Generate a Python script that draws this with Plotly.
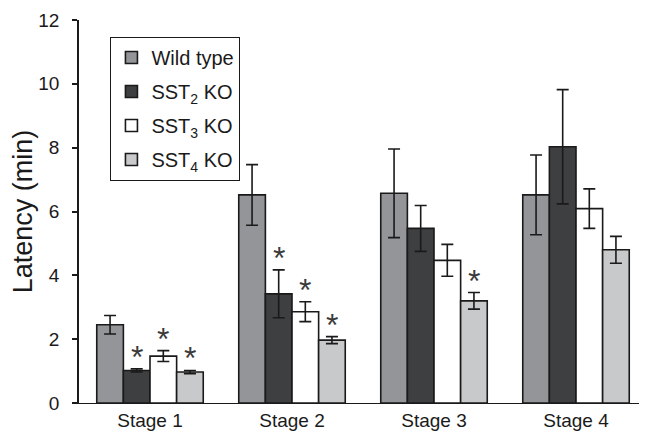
import plotly.graph_objects as go

stages = ["Stage 1", "Stage 2", "Stage 3", "Stage 4"]
series_names = ["Wild type", "SST<sub>2</sub> KO", "SST<sub>3</sub> KO", "SST<sub>4</sub> KO"]
wild_type = [2.45, 6.52, 6.57, 6.52]
wild_type_err = [0.29, 0.95, 1.39, 1.25]
sst2_ko = [1.02, 3.42, 5.47, 8.03]
sst2_ko_err = [0.05, 0.75, 0.72, 1.79]
sst3_ko = [1.47, 2.86, 4.47, 6.09]
sst3_ko_err = [0.17, 0.31, 0.50, 0.62]
sst4_ko = [0.97, 1.97, 3.20, 4.80]
sst4_ko_err = [0.05, 0.11, 0.26, 0.42]
# significance markers (series index, stage index)
significant = [(1, 0), (2, 0), (3, 0), (1, 1), (2, 1), (3, 1), (3, 2)]

values = [wild_type, sst2_ko, sst3_ko, sst4_ko]
errors = [wild_type_err, sst2_ko_err, sst3_ko_err, sst4_ko_err]
colors = ["#939598", "#3d3f41", "#ffffff", "#c8c9cb"]

x = list(range(len(stages)))
fig = go.Figure()
for j in range(4):
    fig.add_trace(go.Bar(
        x=x, y=values[j], name=series_names[j], legendgroup=str(j),
        marker=dict(color=colors[j], line=dict(color="#1a1a1a", width=1.6)),
        error_y=dict(type="data", array=errors[j], color="#1a1a1a", thickness=1.6, width=6),
    ))

bargap = 0.25
bw = (1 - bargap) / 4
offsets = [(-1.5 + j) * bw for j in range(4)]
for (j, i) in significant:
    fig.add_annotation(
        x=i + offsets[j], y=values[j][i] + errors[j][i], xref="x", yref="y",
        text="*", showarrow=False, yanchor="bottom", yshift=-8,
        font=dict(size=32, color="#3a3a3a", family="Arial, Liberation Sans"),
    )

# page body has an 8px default margin; figure is sized to fill the rest
fig.update_layout(
    width=639, height=433,
    margin=dict(l=71, r=0, t=12, b=38),
    paper_bgcolor="white", plot_bgcolor="white",
    barmode="group", bargap=bargap, bargroupgap=0,
    font=dict(family="Arial, Liberation Sans", size=20, color="#1a1a1a"),
    showlegend=True,
    legend=dict(
        x=0.055, y=0.956, xanchor="left", yanchor="top",
        bordercolor="#1a1a1a", borderwidth=1.2, bgcolor="white",
        font=dict(size=20), traceorder="grouped", tracegroupgap=5,
    ),
    xaxis=dict(
        range=[-0.5, 3.5], tickvals=x, ticktext=stages, showline=True,
        linecolor="#1a1a1a", linewidth=1.2, ticks="", showgrid=False,
        zeroline=False, tickfont=dict(size=19), automargin=False,
    ),
    yaxis=dict(
        range=[0, 12], dtick=2, showline=True, linecolor="#1a1a1a", linewidth=1.5,
        ticks="outside", ticklen=5, tickcolor="#1a1a1a", tickwidth=1.5,
        ticklabelstandoff=9,
        showgrid=False, zeroline=False, tickfont=dict(size=19), automargin=False,
        title=dict(text="Latency (min)", font=dict(size=27), standoff=1),
    ),
)

fig.write_html("out.html")
